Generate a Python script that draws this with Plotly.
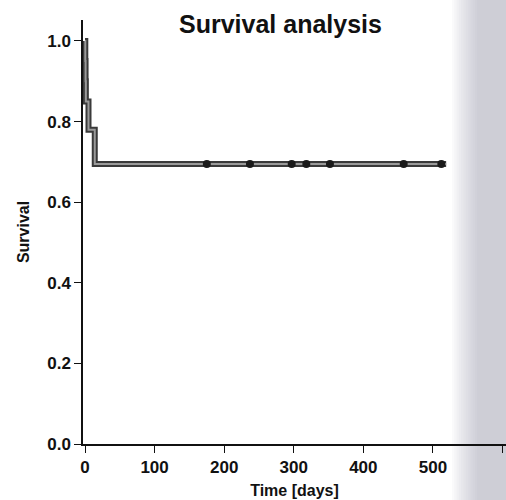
import plotly.graph_objects as go

# Kaplan-Meier steps
event_times = [0, 0.4, 0.8, 1.2, 5, 14]
survival = [1.0, 0.95, 0.90, 0.85, 0.78, 0.695]
end_time = 519
censor_times = [175, 237, 297, 318, 352, 458, 512]

x_ticks = [0, 100, 200, 300, 400, 500, 600]
y_ticks = [0.0, 0.2, 0.4, 0.6, 0.8, 1.0]

W, H = 506, 500
ML, MR, MT, MB = 83, 0, 20, 56

step_x = event_times + [end_time]
step_y = survival + [survival[-1]]
cens_y = [survival[-1]] * len(censor_times)

font_family = "Liberation Sans, Arial, sans-serif"

fig = go.Figure()
fig.add_trace(go.Scatter(x=step_x, y=step_y, mode="lines", line_shape="hv",
                         line=dict(color="#3a3a3a", width=6), showlegend=False,
                         hoverinfo="skip"))
fig.add_trace(go.Scatter(x=step_x, y=step_y, mode="lines", line_shape="hv",
                         line=dict(color="#9a9a9a", width=2), showlegend=False,
                         hoverinfo="skip"))
fig.add_trace(go.Scatter(x=censor_times, y=cens_y, mode="markers",
                         marker=dict(symbol="circle", size=8, color="#1a1a1a"),
                         showlegend=False, hoverinfo="skip"))

# scanner shadow on the right edge (decorative)
shapes = []
plot_w = W - ML - MR
plot_h = H - MT - MB
x_start = 452
steps = 12
for i in range(steps):
    p0 = x_start + i * 2.3
    shapes.append(dict(type="rect", xref="paper", yref="paper",
                       x0=(p0 - ML) / plot_w, x1=(W + 5 - ML) / plot_w,
                       y0=-MB / plot_h - 0.02, y1=1 + MT / plot_h + 0.02,
                       fillcolor="rgb(165,165,180)", opacity=0.05,
                       line=dict(width=0), layer="below"))

fig.update_layout(
    width=W, height=H,
    margin=dict(l=ML, r=MR, t=MT, b=MB),
    paper_bgcolor="white", plot_bgcolor="rgba(0,0,0,0)",
    shapes=shapes,
    font=dict(family=font_family, color="#111"),
    annotations=[
        dict(text="Survival analysis", xref="paper", yref="paper",
             x=(280 - ML) / plot_w, y=1 + (MT - 24) / plot_h,
             showarrow=False, xanchor="center", yanchor="middle",
             font=dict(size=25, family=font_family, weight=700, color="#111")),
    ],
)
fig.update_xaxes(range=[-2.9, 605], tickvals=x_ticks, ticktext=[str(v) for v in x_ticks],
                 showgrid=False, zeroline=False, showline=True, linecolor="#111",
                 linewidth=1.5, ticks="outside", ticklen=7, tickwidth=1.2,
                 tickcolor="#111",
                 tickfont=dict(size=17, family=font_family, weight=700),
                 title=dict(text="Time [days]", standoff=9,
                            font=dict(size=16, family=font_family, weight=700)))
fig.update_yaxes(range=[0, 1.052], tickvals=y_ticks, ticktext=[f"{v:.1f}" for v in y_ticks],
                 showgrid=False, zeroline=False, showline=True, linecolor="#111",
                 linewidth=1.5, ticks="outside", ticklen=7, tickwidth=1.2,
                 tickcolor="#111",
                 tickfont=dict(size=17, family=font_family, weight=700),
                 title=dict(text="Survival", standoff=14,
                            font=dict(size=16, family=font_family, weight=700)))

fig.write_html("out.html", config={"displayModeBar": False},
               post_script="document.body.style.margin='0';document.body.style.overflow='hidden';")
